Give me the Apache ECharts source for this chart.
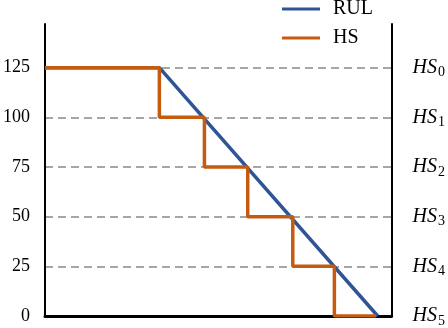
<!DOCTYPE html>
<html lang="en">
  <head>
    <meta charset="UTF-8" />
    <title>RUL and HS</title>
    <style>
      * {
        margin: 0;
        padding: 0;
      }
    </style>
  </head>
  <body>
    <div id="main" style="width: 448px; height: 328px;"></div>
    <script src="https://cdn.jsdelivr.net/npm/echarts@6/dist/echarts.min.js"></script>
    <script>
      // data
      let rulX = [0, 66, 192];
      let rulY = [125, 125, 0];
      let hsX = [0, 66, 92, 117, 143, 167, 191];
      let hsY = [125, 125, 100, 75, 50, 25, 0];
      let levels = [0, 25, 50, 75, 100, 125];

      function pairs(xs, ys) {
        return xs.map(function (x, i) {
          return [x, ys[i]];
        });
      }

      let myEcharts = echarts.init(document.getElementById("main"));
      let serif = "Liberation Serif";
      let option = {
        animation: false,
        grid: { left: 42, right: 55, top: 24, bottom: 8.5 },
        legend: {
          orient: "vertical",
          left: 277,
          top: -6,
          icon: "rect",
          itemWidth: 38,
          itemHeight: 3,
          itemGap: 9,
          textStyle: {
            fontFamily: serif,
            fontSize: 20,
            color: "#000",
            padding: [0, 0, 0, 8],
          },
          data: ["RUL", "HS"],
        },
        xAxis: {
          type: "value",
          min: 0,
          max: 200,
          axisLine: { lineStyle: { color: "#000", width: 3 } },
          axisTick: { show: false },
          axisLabel: { show: false },
          splitLine: { show: false },
        },
        yAxis: [
          {
            type: "value",
            min: 0,
            max: 147,
            interval: 25,
            axisLine: { show: true, lineStyle: { color: "#000", width: 2 } },
            axisTick: { show: false },
            axisLabel: {
              showMaxLabel: false,
              margin: 15,
              fontFamily: serif,
              fontSize: 18,
              color: "#000",
            },
            splitLine: {
              show: true,
              showMinLine: false,
              showMaxLine: false,
              lineStyle: { color: "#A6A6A6", width: 2, type: [8, 5] },
            },
          },
          {
            type: "value",
            position: "right",
            min: 0,
            max: 147,
            interval: 25,
            axisLine: { show: true, lineStyle: { color: "#000", width: 2 } },
            axisTick: { show: false },
            splitLine: { show: false },
            axisLabel: {
              showMaxLabel: false,
              margin: 21,
              formatter: function (v) {
                let k = levels.length - 1 - levels.indexOf(v);
                return "{h|HS}{s|" + k + "}";
              },
              rich: {
                h: {
                  fontFamily: serif,
                  fontStyle: "italic",
                  fontSize: 20,
                  color: "#000",
                },
                s: {
                  fontFamily: serif,
                  fontSize: 14,
                  color: "#000",
                  padding: [10, 0, 0, 1],
                },
              },
            },
          },
        ],
        series: [
          {
            name: "RUL",
            type: "line",
            symbol: "none",
            data: pairs(rulX, rulY),
            lineStyle: { color: "#2F5597", width: 3.5 },
            itemStyle: { color: "#2F5597" },
          },
          {
            name: "HS",
            type: "line",
            step: "start",
            symbol: "none",
            data: pairs(hsX, hsY),
            lineStyle: { color: "#C55A11", width: 3.5 },
            itemStyle: { color: "#C55A11" },
          },
        ],
      };
      myEcharts.setOption(option);
    </script>
  </body>
</html>
